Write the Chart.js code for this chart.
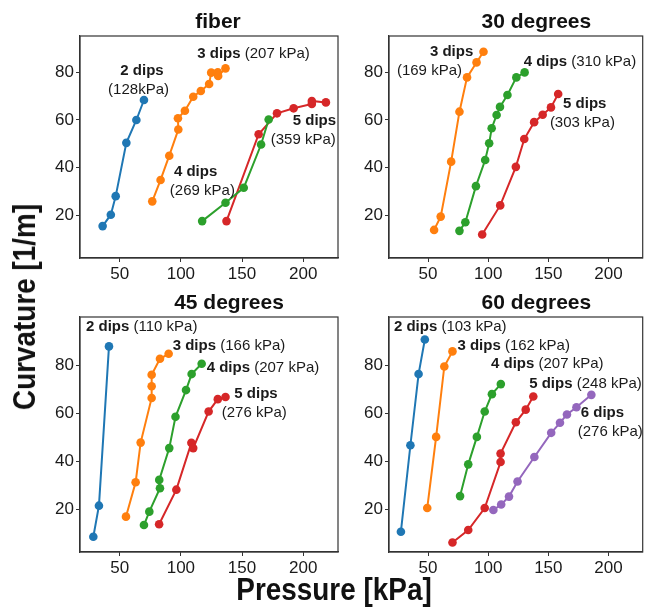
<!DOCTYPE html>
<html>
<head>
<meta charset="utf-8">
<script src="https://cdn.jsdelivr.net/npm/chart.js@4.4.0/dist/chart.umd.min.js"></script>
<style>
  body { margin: 0; background: #fff; width: 647px; height: 607px; position: relative; overflow: hidden;
         font-family: "Liberation Sans", Arial, sans-serif; }
  canvas { position: absolute; }
  .ax-title { position: absolute; font-weight: bold; font-size: 31px; color: #111; white-space: nowrap;
              transform: translate(-50%, -50%) scaleX(0.9); }
  #t-y { transform: translate(-50%, -50%) rotate(-90deg) scaleX(0.9); }
</style>
</head>
<body>
<canvas id="c-fiber" width="345" height="290" style="left:0;top:0"></canvas>
<canvas id="c-30" width="302" height="290" style="left:345px;top:0"></canvas>
<canvas id="c-45" width="345" height="290" style="left:0;top:290px"></canvas>
<canvas id="c-60" width="302" height="290" style="left:345px;top:290px"></canvas>
<div class="ax-title" id="t-y" style="left:25px;top:307px">Curvature [1/m]</div>
<div class="ax-title" id="t-x" style="left:334px;top:590px">Pressure [kPa]</div>

<script>
// ---- ticks ----
const xTickValues = [50, 100, 150, 200];
const yTickValues = [20, 40, 60, 80];

// ---- fiber ----
const fiber2P = [36, 42.7, 46.7, 55.4, 63.6, 69.8];
const fiber2C = [15.4, 20.2, 28, 50.4, 60, 68.4];
const fiber3P = [76.6, 83.4, 90.5, 97.9, 97.6, 103.3, 110.1, 116.3, 123.1, 124.8, 130.2, 130.5, 136.5];
const fiber3C = [25.8, 34.8, 45, 56, 60.7, 63.9, 69.8, 72.2, 75.1, 79.9, 80, 78.5, 81.7];
const fiber4P = [117.4, 136.5, 151.4, 165.6, 171.8];
const fiber4C = [17.5, 25.2, 31.5, 49.7, 60.2];
const fiber5P = [137.3, 163.6, 178.6, 192.2, 207.1, 207.1, 218.6];
const fiber5C = [17.5, 54, 62.8, 64.9, 66.7, 68, 67.4];

// ---- 30 degrees ----
const deg30_3P = [55, 60.5, 69.2, 76.1, 82.4, 90.3, 96.1];
const deg30_3C = [13.8, 19.4, 42.5, 63.5, 77.9, 84.2, 88.7];
const deg30_4P = [76.1, 81, 89.8, 97.5, 100.8, 102.9, 107, 109.8, 116, 123.4, 130.3];
const deg30_4C = [13.4, 17, 32.2, 43.2, 50.2, 56.5, 62.1, 65.5, 70.5, 77.9, 80];
const deg30_5P = [95, 110, 123, 130, 138.2, 145.3, 152.2, 158.2];
const deg30_5C = [11.9, 24.1, 40.3, 52, 59.1, 62.2, 65.3, 70.9];

// ---- 45 degrees ----
const deg45_2P = [28.4, 33, 41.2];
const deg45_2C = [8.4, 21.4, 88.1];
const deg45_3P = [55.1, 63, 67.1, 76.1, 76.1, 76.1, 82.9, 90];
const deg45_3C = [16.8, 31.2, 47.8, 66.5, 71.4, 76.2, 82.9, 85];
const deg45_4P = [69.8, 74.2, 82.9, 82.3, 90.5, 95.6, 104.2, 108.8, 117];
const deg45_4C = [13.3, 18.9, 28.7, 32.2, 45.5, 58.6, 69.8, 76.5, 80.8];
const deg45_5P = [82.2, 96.3, 108.6, 110.1, 122.7, 130.2, 136.5];
const deg45_5C = [13.6, 28.1, 47.7, 45.5, 60.8, 66, 66.9];

// ---- 60 degrees ----
const deg60_2P = [27.4, 35.3, 42.1, 47.3];
const deg60_2C = [10.5, 46.7, 76.5, 91];
const deg60_3P = [49.3, 56.7, 63.5, 70.3];
const deg60_3C = [20.4, 50.2, 79.7, 86];
const deg60_4P = [76.6, 83.4, 90.6, 97.1, 103.1, 110.5];
const deg60_4C = [25.4, 38.7, 50.2, 60.8, 68.1, 72.3];
const deg60_5P = [70.3, 83.4, 97.1, 110.3, 110.3, 123, 131.2, 137.5];
const deg60_5C = [6, 11.2, 20.4, 39.7, 43.2, 56.3, 61.6, 67.1];
const deg60_6P = [104.3, 110.8, 117.3, 124.4, 138.4, 152.4, 159.7, 165.5, 173.4, 185.8];
const deg60_6C = [19.6, 21.9, 25.2, 31.5, 41.8, 51.9, 56.1, 59.6, 62.6, 67.8];

// couleurs matplotlib (tab10)
const COR = { 2: "#1f77b4", 3: "#ff7f0e", 4: "#2ca02c", 5: "#d62728", 6: "#9467bd" };
const FONTE = '"Liberation Sans", Arial, sans-serif';
const TXT = "#1a1a1a";

function serie(dips, px, cy) {
  return {
    label: dips + " dips",
    data: px.map((p, i) => ({ x: p, y: cy[i] })),
    showLine: true,
    borderColor: COR[dips],
    backgroundColor: COR[dips],
    borderWidth: 2,
    pointRadius: 4.3,
    pointBorderWidth: 0,
    pointHoverRadius: 4.3,
  };
}

// titre du panneau, cadre et annotations "n dips (xxx kPa)"
const panelText = {
  id: "panelText",
  afterDatasetsDraw(chart) {
    const o = chart.options.plugins.panelText;
    const { ctx, chartArea: a, scales } = chart;
    ctx.save();
    ctx.strokeStyle = "#333";
    ctx.lineWidth = 1.2;
    ctx.strokeRect(a.left, a.top, a.right - a.left, a.bottom - a.top);

    ctx.fillStyle = "#111";
    ctx.textBaseline = "middle";
    ctx.textAlign = "center";
    ctx.font = "bold 21px " + FONTE;
    ctx.fillText(o.title, (a.left + a.right) / 2 + o.titleDx, a.top - 14);

    ctx.textAlign = "left";
    ctx.fillStyle = TXT;
    o.labels.forEach((lb) => {
      let x = scales.x.getPixelForValue(lb.x);
      const y = scales.y.getPixelForValue(lb.y);
      lb.parts.forEach(([txt, bold]) => {
        ctx.font = (bold ? "bold " : "") + "15px " + FONTE;
        ctx.fillText(txt, x, y);
        x += ctx.measureText(txt).width;
      });
    });
    ctx.restore();
  },
};

function montar(id, cfg) {
  new Chart(document.getElementById(id), {
    type: "scatter",
    data: { datasets: cfg.datasets },
    options: {
      responsive: false,
      animation: false,
      layout: { padding: { top: cfg.padTop, right: cfg.padRight, left: 0, bottom: 0 } },
      plugins: {
        legend: { display: false },
        tooltip: { enabled: false },
        panelText: { title: cfg.title, titleDx: cfg.titleDx, labels: cfg.labels },
      },
      scales: {
        x: {
          type: "linear", min: 17.5, max: 228.5,
          afterBuildTicks: (s) => { s.ticks = xTickValues.map((v) => ({ value: v })); },
          afterFit: (s) => { s.height = cfg.xHeight; },
          border: { display: true, color: "#333", width: 1.2 },
          grid: { drawOnChartArea: false, drawTicks: true, tickLength: 4, color: "#333" },
          ticks: { color: TXT, font: { family: FONTE, size: 17 }, padding: 2, maxRotation: 0 },
        },
        y: {
          type: "linear", min: 2, max: cfg.yMax,
          afterBuildTicks: (s) => { s.ticks = yTickValues.map((v) => ({ value: v })); },
          afterFit: (s) => { s.width = cfg.yWidth; },
          border: { display: true, color: "#333", width: 1.2 },
          grid: { drawOnChartArea: false, drawTicks: true, tickLength: 4, color: "#333" },
          ticks: { color: TXT, font: { family: FONTE, size: 17 }, padding: 2 },
        },
      },
    },
    plugins: [panelText],
  });
}

montar("c-fiber", {
  title: "fiber", titleDx: 9, yMax: 95.3,
  padTop: 36, padRight: 7, yWidth: 80, xHeight: 32,
  datasets: [serie(2, fiber2P, fiber2C), serie(3, fiber3P, fiber3C), serie(4, fiber4P, fiber4C), serie(5, fiber5P, fiber5C)],
  labels: [
    { x: 50.5, y: 80.7, parts: [["2 dips", true]] },
    { x: 40.5, y: 72.6, parts: [["(128kPa)", false]] },
    { x: 113.4, y: 87.6, parts: [["3 dips ", true], ["(207 kPa)", false]] },
    { x: 94.3, y: 38.0, parts: [["4 dips", true]] },
    { x: 91.0, y: 30.1, parts: [["(269 kPa)", false]] },
    { x: 191.5, y: 59.5, parts: [["5 dips", true]] },
    { x: 173.5, y: 51.6, parts: [["(359 kPa)", false]] },
  ],
});

montar("c-30", {
  title: "30 degrees", titleDx: 20.5, yMax: 95.3,
  padTop: 36, padRight: 1, yWidth: 44, xHeight: 32,
  datasets: [serie(3, deg30_3P, deg30_3C), serie(4, deg30_4P, deg30_4C), serie(5, deg30_5P, deg30_5C)],
  labels: [
    { x: 51.5, y: 88.7, parts: [["3 dips", true]] },
    { x: 24.1, y: 80.5, parts: [["(169 kPa)", false]] },
    { x: 129.5, y: 84.5, parts: [["4 dips ", true], ["(310 kPa)", false]] },
    { x: 162.3, y: 66.6, parts: [["5 dips", true]] },
    { x: 151.3, y: 59.0, parts: [["(303 kPa)", false]] },
  ],
});

montar("c-45", {
  title: "45 degrees", titleDx: 20, yMax: 100.4,
  padTop: 27, padRight: 7, yWidth: 80, xHeight: 28,
  datasets: [serie(2, deg45_2P, deg45_2C), serie(3, deg45_3P, deg45_3C), serie(4, deg45_4P, deg45_4C), serie(5, deg45_5P, deg45_5C)],
  labels: [
    { x: 22.4, y: 96.2, parts: [["2 dips ", true], ["(110 kPa)", false]] },
    { x: 93.3, y: 88.5, parts: [["3 dips ", true], ["(166 kPa)", false]] },
    { x: 121.1, y: 79.0, parts: [["4 dips ", true], ["(207 kPa)", false]] },
    { x: 143.7, y: 68.1, parts: [["5 dips", true]] },
    { x: 133.4, y: 60.2, parts: [["(276 kPa)", false]] },
  ],
});

montar("c-60", {
  title: "60 degrees", titleDx: 20.5, yMax: 100.4,
  padTop: 27, padRight: 1, yWidth: 44, xHeight: 28,
  datasets: [serie(2, deg60_2P, deg60_2C), serie(3, deg60_3P, deg60_3C), serie(4, deg60_4P, deg60_4C),
             serie(5, deg60_5P, deg60_5C), serie(6, deg60_6P, deg60_6C)],
  labels: [
    { x: 21.6, y: 96.2, parts: [["2 dips ", true], ["(103 kPa)", false]] },
    { x: 74.4, y: 88.5, parts: [["3 dips ", true], ["(162 kPa)", false]] },
    { x: 102.3, y: 80.7, parts: [["4 dips ", true], ["(207 kPa)", false]] },
    { x: 134.1, y: 72.3, parts: [["5 dips ", true], ["(248 kPa)", false]] },
    { x: 177.0, y: 60.2, parts: [["6 dips", true]] },
    { x: 174.5, y: 52.4, parts: [["(276 kPa)", false]] },
  ],
});
</script>
</body>
</html>
